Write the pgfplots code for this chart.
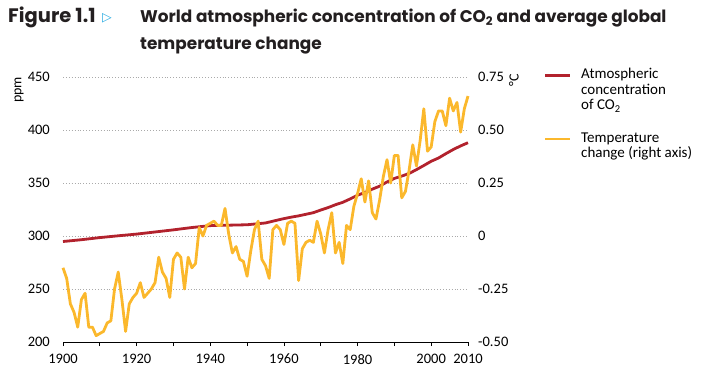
\documentclass[border=0pt]{standalone}
\usepackage{pgfplots}
\pgfplotsset{compat=1.18}
\usepackage{fontspec}
\setmainfont{Carlito}
\newfontfamily\titlefont{Poppins}
\newfontfamily\symfont{DejaVu Sans}
\definecolor{co2red}{RGB}{178,34,45}
\definecolor{tempyel}{RGB}{251,184,44}
\definecolor{tblue}{RGB}{40,170,225}
\definecolor{titlegray}{RGB}{35,31,32}
\definecolor{gridgray}{RGB}{170,170,170}

\pgfplotstableread{
year ppm
1900 294.8
1905 296.5
1910 298.5
1915 300.2
1920 301.8
1925 303.8
1930 305.8
1935 308.0
1940 309.8
1945 310.2
1950 310.6
1955 312.3
1958 314.8
1960 316.4
1962 317.8
1964 319.0
1966 320.5
1968 322.0
1970 324.5
1972 326.8
1974 329.5
1976 331.8
1978 335.0
1980 338.5
1982 341.0
1984 344.2
1986 347.0
1988 351.0
1990 354.3
1992 356.5
1994 359.0
1996 362.6
1998 366.5
2000 370.5
2002 373.6
2004 377.7
2006 381.6
2008 385.0
2010 388.0
}\cotwo

\pgfplotstableread{
year temp
1900 -0.15
1901 -0.20
1902 -0.32
1903 -0.36
1904 -0.43
1905 -0.30
1906 -0.27
1907 -0.43
1908 -0.43
1909 -0.47
1910 -0.46
1911 -0.45
1912 -0.41
1913 -0.40
1914 -0.25
1915 -0.17
1916 -0.30
1917 -0.45
1918 -0.32
1919 -0.29
1920 -0.27
1921 -0.22
1922 -0.29
1923 -0.27
1924 -0.25
1925 -0.22
1926 -0.10
1927 -0.17
1928 -0.20
1929 -0.29
1930 -0.11
1931 -0.08
1932 -0.10
1933 -0.25
1934 -0.10
1935 -0.15
1936 -0.13
1937 0.04
1938 0.00
1939 0.05
1940 0.06
1941 0.07
1942 0.05
1943 0.05
1944 0.13
1945 0.01
1946 -0.08
1947 -0.05
1948 -0.11
1949 -0.12
1950 -0.19
1951 -0.07
1952 0.03
1953 0.07
1954 -0.11
1955 -0.14
1956 -0.20
1957 0.03
1958 0.05
1959 0.03
1960 -0.04
1961 0.06
1962 0.07
1963 0.06
1964 -0.21
1965 -0.06
1966 -0.03
1967 -0.02
1968 -0.03
1969 0.07
1970 0.01
1971 -0.08
1972 0.03
1973 0.11
1974 -0.08
1975 -0.03
1976 -0.13
1977 0.05
1978 0.03
1979 0.14
1980 0.20
1981 0.27
1982 0.16
1983 0.26
1984 0.11
1985 0.08
1986 0.17
1987 0.28
1988 0.36
1989 0.25
1990 0.38
1991 0.38
1992 0.18
1993 0.21
1994 0.31
1995 0.43
1996 0.33
1997 0.45
1998 0.60
1999 0.40
2000 0.42
2001 0.54
2002 0.59
2003 0.59
2004 0.52
2005 0.65
2006 0.59
2007 0.63
2008 0.49
2009 0.60
2010 0.66
}\temps

\begin{document}
\begin{tikzpicture}[x=1pt,y=1pt]
\useasboundingbox (0,0) rectangle (708,383);
% title
\node[anchor=base west, inner sep=0, text=titlegray, font=\titlefont\bfseries\fontsize{19.5}{22}\selectfont] at (8,360) {Figure 1.1};
\node[anchor=west, inner sep=0, text=tblue, font=\symfont\fontsize{12.5}{14}\selectfont] at (102,364.5) {▷};
\node[anchor=base west, inner sep=0, text=titlegray, font=\titlefont\bfseries\fontsize{16.9}{20}\selectfont] at (140,360) {World atmospheric concentration of CO\textsubscript{2} and average global};
\node[anchor=base west, inner sep=0, text=titlegray, font=\titlefont\bfseries\fontsize{16.9}{20}\selectfont] at (140,333) {temperature change};

\begin{axis}[
  at={(63pt,41pt)}, anchor=south west,
  scale only axis, width=405pt, height=265pt,
  xmin=1900, xmax=2010, ymin=200, ymax=450,
  axis x line=bottom, axis y line=left,
  x axis line style={-, black, line width=0.8pt},
  y axis line style={draw=none},
  xtick={1900,1910,...,2010},
  xticklabels={1900,,1920,,1940,,1960,,1980,,2000,2010},
  ytick={200,250,...,450},
  yticklabels={200,250,300,350,400,450},
  tick align=outside,
  major tick length=4pt,
  xtick style={black, line width=0.8pt},
  ytick style={draw=none},
  ticklabel style={font=\fontsize{14.5}{16}\selectfont, text=black},
  xticklabel style={inner sep=0pt, anchor=north, yshift=-8pt},
  yticklabel style={inner sep=0pt, anchor=east, xshift=-9pt},
  ymajorgrids,
  grid style={gridgray, line width=0.9pt, dash pattern=on 0.9pt off 2pt},
  clip=false,
]
\addplot[co2red, line width=2.8pt, line join=round] table[x=year, y=ppm] {\cotwo};
\end{axis}

\begin{axis}[
  at={(63pt,41pt)}, anchor=south west,
  scale only axis, width=405pt, height=265pt,
  xmin=1900, xmax=2010, ymin=-0.5, ymax=0.75,
  axis x line=none, axis y line*=right,
  y axis line style={draw=none},
  ytick={-0.5,-0.25,0,0.25,0.5,0.75},
  yticklabels={-0.50,-0.25,0,0.25,0.50,0.75},
  ytick style={draw=none},
  ticklabel style={font=\fontsize{14.5}{16}\selectfont, text=black},
  yticklabel style={inner sep=0pt, anchor=west, xshift=10pt},
  clip=false,
]
\addplot[tempyel, line width=2.8pt, line join=round] table[x=year, y=temp] {\temps};
\end{axis}

% axis titles
\node[rotate=90, inner sep=0, font=\fontsize{14}{16}\selectfont] at (19,293) {ppm};
\node[rotate=90, inner sep=0, font=\fontsize{14}{16}\selectfont] at (514,303) {°C};

% legend
\draw[co2red, line width=2.8pt] (545,307.3) -- (570,307.3);
\node[anchor=base west, inner sep=0, font=\fontsize{15}{16}\selectfont] at (581,304) {Atmospheric};
\node[anchor=base west, inner sep=0, font=\fontsize{15}{16}\selectfont] at (581,288.5) {concentration};
\node[anchor=base west, inner sep=0, font=\fontsize{15}{16}\selectfont] at (581,273) {of CO\textsubscript{2}};
\draw[tempyel, line width=2.8pt] (545,244) -- (570,244);
\node[anchor=base west, inner sep=0, font=\fontsize{15}{16}\selectfont] at (581,240.3) {Temperature};
\node[anchor=base west, inner sep=0, font=\fontsize{15}{16}\selectfont] at (581,225.5) {change (right axis)};
\end{tikzpicture}
\end{document}
